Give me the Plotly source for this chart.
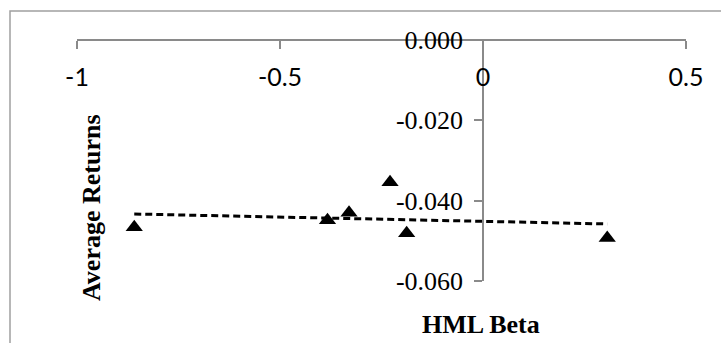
import numpy as np
import plotly.graph_objects as go

# HML beta vs. average returns for the six portfolios
hml_beta = [-0.859, -0.383, -0.330, -0.229, -0.188, 0.306]
avg_returns = [-0.0466, -0.0449, -0.0430, -0.0354, -0.0481, -0.0493]

x_ticks = [-1, -0.5, 0, 0.5]
x_tick_text = ["-1", "-0.5", "0", "0.5"]
y_ticks = [0, -0.02, -0.04, -0.06]
y_tick_text = ["0.000", "-0.020", "-0.040", "-0.060"]

W, H = 721, 343
ML, MR, MT, MB = 77, 35, 40, 62
X_RANGE = [-1, 0.5]
Y_RANGE = [-0.06, 0]

# linear trend through the points, drawn over the data span
slope, intercept = np.polyfit(hml_beta, avg_returns, 1)
trend_x = [min(hml_beta), max(hml_beta)]
trend_y = [slope * v + intercept for v in trend_x]

pw, ph = W - ML - MR, H - MT - MB


def px_to_paper(px, py):
    return (px - ML) / pw, (H - MB - py) / ph


fig = go.Figure()
fig.add_trace(go.Scatter(
    x=trend_x, y=trend_y, mode="lines",
    line=dict(color="black", width=3, dash="7px,4px"),
    hoverinfo="skip", showlegend=False,
))
fig.add_trace(go.Scatter(
    x=hml_beta, y=avg_returns, mode="markers",
    marker=dict(symbol="triangle-up", size=15, color="black"),
    showlegend=False,
))

axis_color = "#8a8a8a"
y_axis_pos = (0 - X_RANGE[0]) / (X_RANGE[1] - X_RANGE[0])

fig.update_layout(
    width=W, height=H,
    margin=dict(l=ML, r=MR, t=MT, b=MB),
    paper_bgcolor="white", plot_bgcolor="rgba(0,0,0,0)",
    xaxis=dict(
        range=X_RANGE, anchor="free", position=1.0, side="bottom",
        showline=True, linecolor=axis_color, linewidth=1.5,
        ticks="outside", ticklen=8, tickwidth=1.5, tickcolor=axis_color,
        tickvals=x_ticks, ticktext=x_tick_text,
        tickfont=dict(family="Lato, Carlito, sans-serif", size=25, color="black"),
        ticklabelstandoff=7,
        showgrid=False, zeroline=False, fixedrange=True,
    ),
    yaxis=dict(
        range=Y_RANGE, anchor="free", position=y_axis_pos, side="left",
        showline=True, linecolor=axis_color, linewidth=1.5,
        ticks="outside", ticklen=8, tickwidth=1.5, tickcolor=axis_color,
        tickvals=y_ticks, ticktext=y_tick_text,
        tickfont=dict(family="Liberation Serif, Times New Roman, serif", size=26, color="black"),
        ticklabelstandoff=6,
        showgrid=False, zeroline=False, fixedrange=True,
    ),
)

# outer chart border (top and left edges visible)
bx0, by_top = px_to_paper(10, 11)
fig.add_shape(type="rect", xref="paper", yref="paper",
              x0=bx0, x1=1.5, y0=-1.0, y1=by_top,
              line=dict(color="#a0a0a0", width=1.5), layer="below")

title_font = dict(family="Liberation Serif, Times New Roman, serif", size=26, color="black")
ax_x, ax_y = px_to_paper(91, 208)
fig.add_annotation(text="<b>Average Returns</b>", xref="paper", yref="paper",
                   x=ax_x, y=ax_y, textangle=-90, showarrow=False,
                   xanchor="center", yanchor="middle", font=title_font)
hx, hy = px_to_paper(481, 324)
fig.add_annotation(text="<b>HML Beta</b>", xref="paper", yref="paper",
                   x=hx, y=hy, showarrow=False,
                   xanchor="center", yanchor="middle", font=title_font)

fig.write_html("out.html")
